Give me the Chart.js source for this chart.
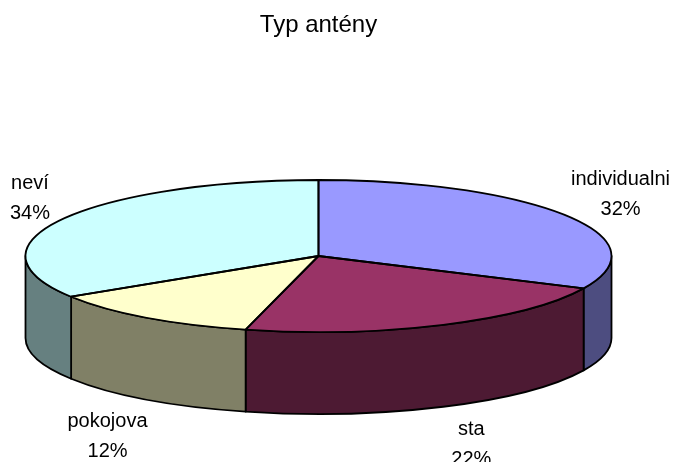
<!DOCTYPE html>
<html>
<head>
<meta charset="utf-8">
<title>Typ antény</title>
<script src="https://cdn.jsdelivr.net/npm/chart.js@4/dist/chart.umd.min.js"></script>
<style>
  body { margin: 0; background: #fff; }
  canvas { display: block; }
</style>
</head>
<body>
<canvas id="antenna_chart" width="674" height="462"></canvas>
<script>
const categories = ['individualni', 'sta', 'pokojova', 'neví'];
const shares = [32, 22, 12, 34];
const topColors = ['#9999FF', '#993366', '#FFFFCC', '#CCFFFF'];
const sideColors = ['#4D4D80', '#4D1A33', '#808066', '#668080'];

const FONT = '"Liberation Sans", Arial, sans-serif';
const TILT = 0.2594; // ry / rx of the top face

// squash the library's pie into a tilted disc and give it a side wall
const pie3d = {
  id: 'pie3d',
  geom(chart) {
    const area = chart.chartArea;
    const arc0 = chart.getDatasetMeta(0).data[0];
    const rx = area.width / 2;
    const ry = rx * TILT;
    return {
      cx: arc0.x, cy: area.top + ry, rx: rx, ry: ry,
      depth: area.height - 2 * ry,
      R: arc0.outerRadius, ox: arc0.x, oy: arc0.y
    };
  },
  beforeDatasetsDraw(chart) {
    const g = this.geom(chart);
    const ctx = chart.ctx;
    const arcs = chart.getDatasetMeta(0).data;
    ctx.save();
    ctx.lineWidth = 1.8;
    ctx.strokeStyle = '#000';
    ctx.lineJoin = 'round';
    arcs.forEach((arc, i) => {
      const a = Math.max(arc.startAngle, 0);
      const b = Math.min(arc.endAngle, Math.PI);
      if (b <= a) return;
      ctx.beginPath();
      ctx.ellipse(g.cx, g.cy, g.rx, g.ry, 0, a, b);
      ctx.lineTo(g.cx + g.rx * Math.cos(b), g.cy + g.depth + g.ry * Math.sin(b));
      ctx.ellipse(g.cx, g.cy + g.depth, g.rx, g.ry, 0, b, a, true);
      ctx.closePath();
      ctx.fillStyle = sideColors[i];
      ctx.fill();
      ctx.stroke();
    });
    ctx.restore();
    ctx.save();
    ctx.translate(g.cx, g.cy);
    ctx.scale(g.rx / g.R, g.ry / g.R);
    ctx.translate(-g.ox, -g.oy);
  },
  afterDatasetsDraw(chart) {
    const ctx = chart.ctx;
    ctx.restore();
    const g = this.geom(chart);
    const arcs = chart.getDatasetMeta(0).data;
    const total = shares.reduce((s, v) => s + v, 0);

    ctx.save();
    ctx.lineWidth = 1.8;
    ctx.strokeStyle = '#000';
    ctx.lineJoin = 'round';
    arcs.forEach(arc => {
      ctx.beginPath();
      ctx.moveTo(g.cx, g.cy);
      ctx.ellipse(g.cx, g.cy, g.rx, g.ry, 0, arc.startAngle, arc.endAngle);
      ctx.closePath();
      ctx.stroke();
    });

    ctx.font = '20px ' + FONT;
    ctx.fillStyle = '#000';
    ctx.textAlign = 'center';
    ctx.textBaseline = 'alphabetic';
    arcs.forEach((arc, i) => {
      const mid = (arc.startAngle + arc.endAngle) / 2;
      const c = Math.cos(mid), s = Math.sin(mid);
      const lines = [categories[i], Math.round(shares[i] / total * 100) + '%'];
      const w = Math.max(...lines.map(t => ctx.measureText(t).width));
      let lx = g.cx + g.rx * 1.225 * c;
      lx = Math.max(10 + w / 2, Math.min(chart.width - 4 - w / 2, lx));
      const ly = s < 0 ? g.cy + g.ry * s - 15 : g.cy + g.depth + g.ry * s + 43;
      ctx.fillText(lines[0], lx, ly - 15);
      ctx.fillText(lines[1], lx, ly + 15);
    });
    ctx.restore();
  }
};

const ctx = document.getElementById('antenna_chart').getContext('2d');

const data = {
  labels: categories,
  datasets: [{
    data: shares,
    backgroundColor: topColors,
    borderWidth: 0
  }]
};

const config = {
  type: 'pie',
  data: data,
  options: {
    responsive: false,
    animation: false,
    events: [],
    layout: {
      padding: { left: 25.5, right: 62.5, top: 0, bottom: 48 }
    },
    plugins: {
      legend: { display: false },
      tooltip: { enabled: false },
      title: {
        display: true,
        text: 'Typ antény',
        color: '#000',
        font: { family: FONT, size: 24, weight: 'normal', lineHeight: 1.2 },
        padding: { top: 11, bottom: 140.2 }
      }
    }
  },
  plugins: [pie3d]
};

const antenna_chart = new Chart(ctx, config);
</script>
</body>
</html>
